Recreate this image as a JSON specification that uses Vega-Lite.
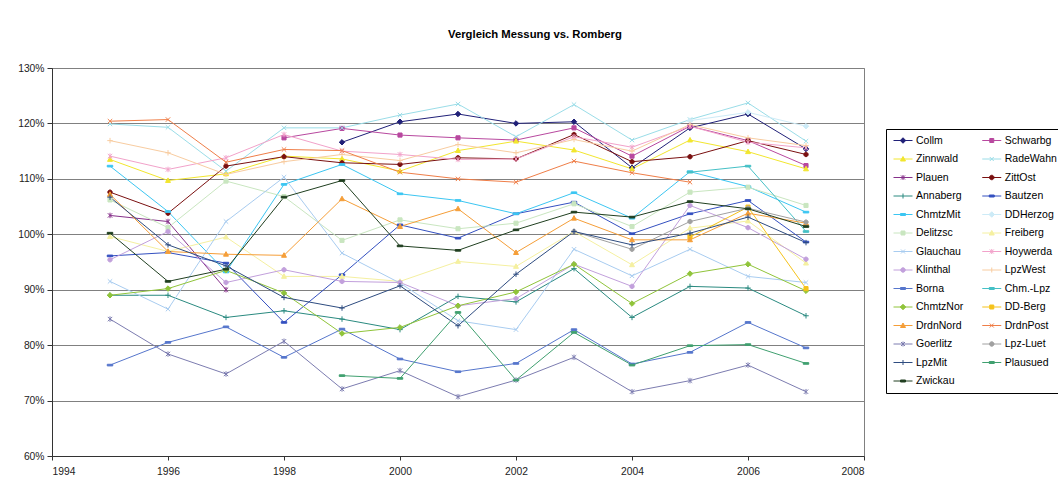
{
"$schema": "https://vega.github.io/schema/vega-lite/v6.json",
"width": 812, "height": 388,
"autosize": {"type": "none"},
"padding": {"left": 52, "top": 68, "right": 194, "bottom": 31},
"background": "white",
"title": {"text": "Vergleich Messung vs. Romberg", "anchor": "start", "frame": "group", "dx": 396, "offset": 23, "font": "Liberation Sans", "fontSize": 11.3, "fontWeight": "bold", "color": "#000"},
"config": {
 "view": {"stroke": "#808080"},
 "axis": {"labelFont": "Liberation Sans", "labelFontSize": 10.3, "labelColor": "#222", "domainColor": "#333", "tickColor": "#333", "title": null},
 "legend": {"orient": "none", "legendX": 834, "legendY": 61, "columns": 2, "columnPadding": 15.75, "rowPadding": 7.5, "padding": 6, "strokeColor": "#000", "fillColor": "#fff", "labelFont": "Liberation Sans", "labelFontSize": 10.5, "labelColor": "#000", "labelOffset": 13, "symbolSize": 100, "symbolStrokeWidth": 1, "symbolOpacity": 1, "labelLimit": 0}
},
"data": {"values": [
{"s":"Collm","t":1999,"v":116.6},{"s":"Collm","t":2000,"v":120.3},{"s":"Collm","t":2001,"v":121.7},{"s":"Collm","t":2002,"v":120.0},{"s":"Collm","t":2003,"v":120.3},{"s":"Collm","t":2004,"v":112.0},{"s":"Collm","t":2005,"v":119.2},{"s":"Collm","t":2006,"v":121.7},{"s":"Collm","t":2007,"v":115.4},
{"s":"Schwarbg","t":1998,"v":117.4},{"s":"Schwarbg","t":1999,"v":119.1},{"s":"Schwarbg","t":2000,"v":117.9},{"s":"Schwarbg","t":2001,"v":117.4},{"s":"Schwarbg","t":2002,"v":117.0},{"s":"Schwarbg","t":2003,"v":119.2},{"s":"Schwarbg","t":2004,"v":114.1},{"s":"Schwarbg","t":2005,"v":119.5},{"s":"Schwarbg","t":2006,"v":116.9},{"s":"Schwarbg","t":2007,"v":112.4},
{"s":"Zinnwald","t":1995,"v":113.5},{"s":"Zinnwald","t":1996,"v":109.7},{"s":"Zinnwald","t":1997,"v":110.9},{"s":"Zinnwald","t":1998,"v":114.1},{"s":"Zinnwald","t":1999,"v":113.6},{"s":"Zinnwald","t":2000,"v":111.4},{"s":"Zinnwald","t":2001,"v":115.1},{"s":"Zinnwald","t":2002,"v":116.8},{"s":"Zinnwald","t":2003,"v":115.2},{"s":"Zinnwald","t":2004,"v":111.8},{"s":"Zinnwald","t":2005,"v":117.0},{"s":"Zinnwald","t":2006,"v":114.9},{"s":"Zinnwald","t":2007,"v":111.8},
{"s":"RadeWahn","t":1995,"v":119.9},{"s":"RadeWahn","t":1996,"v":119.3},{"s":"RadeWahn","t":1997,"v":111.4},{"s":"RadeWahn","t":1998,"v":119.2},{"s":"RadeWahn","t":1999,"v":119.2},{"s":"RadeWahn","t":2000,"v":121.5},{"s":"RadeWahn","t":2001,"v":123.5},{"s":"RadeWahn","t":2002,"v":117.6},{"s":"RadeWahn","t":2003,"v":123.4},{"s":"RadeWahn","t":2004,"v":117.0},{"s":"RadeWahn","t":2005,"v":120.7},{"s":"RadeWahn","t":2006,"v":123.7},{"s":"RadeWahn","t":2007,"v":116.8},
{"s":"Plauen","t":1995,"v":103.4},{"s":"Plauen","t":1996,"v":102.3},{"s":"Plauen","t":1997,"v":90.0},
{"s":"ZittOst","t":1995,"v":107.6},{"s":"ZittOst","t":1996,"v":103.8},{"s":"ZittOst","t":1997,"v":112.3},{"s":"ZittOst","t":1998,"v":114.0},{"s":"ZittOst","t":1999,"v":112.9},{"s":"ZittOst","t":2000,"v":112.6},{"s":"ZittOst","t":2001,"v":113.8},{"s":"ZittOst","t":2002,"v":113.6},{"s":"ZittOst","t":2003,"v":118.0},{"s":"ZittOst","t":2004,"v":113.1},{"s":"ZittOst","t":2005,"v":114.0},{"s":"ZittOst","t":2006,"v":116.9},{"s":"ZittOst","t":2007,"v":114.4},
{"s":"Annaberg","t":1995,"v":89.0},{"s":"Annaberg","t":1996,"v":89.0},{"s":"Annaberg","t":1997,"v":85.0},{"s":"Annaberg","t":1998,"v":86.2},{"s":"Annaberg","t":1999,"v":84.7},{"s":"Annaberg","t":2000,"v":82.8},{"s":"Annaberg","t":2001,"v":88.8},{"s":"Annaberg","t":2002,"v":87.8},{"s":"Annaberg","t":2003,"v":93.8},{"s":"Annaberg","t":2004,"v":85.0},{"s":"Annaberg","t":2005,"v":90.6},{"s":"Annaberg","t":2006,"v":90.3},{"s":"Annaberg","t":2007,"v":85.3},
{"s":"Bautzen","t":1995,"v":96.1},{"s":"Bautzen","t":1996,"v":96.7},{"s":"Bautzen","t":1997,"v":94.8},{"s":"Bautzen","t":1998,"v":84.1},{"s":"Bautzen","t":1999,"v":92.7},{"s":"Bautzen","t":2000,"v":101.7},{"s":"Bautzen","t":2001,"v":99.3},{"s":"Bautzen","t":2002,"v":103.7},{"s":"Bautzen","t":2003,"v":105.8},{"s":"Bautzen","t":2004,"v":100.1},{"s":"Bautzen","t":2005,"v":103.7},{"s":"Bautzen","t":2006,"v":106.1},{"s":"Bautzen","t":2007,"v":98.6},
{"s":"ChmtzMit","t":1995,"v":112.3},{"s":"ChmtzMit","t":1996,"v":104.1},{"s":"ChmtzMit","t":1997,"v":93.2},{"s":"ChmtzMit","t":1998,"v":109.0},{"s":"ChmtzMit","t":1999,"v":112.6},{"s":"ChmtzMit","t":2000,"v":107.3},{"s":"ChmtzMit","t":2001,"v":106.1},{"s":"ChmtzMit","t":2002,"v":103.7},{"s":"ChmtzMit","t":2003,"v":107.5},{"s":"ChmtzMit","t":2004,"v":102.9},{"s":"ChmtzMit","t":2005,"v":111.3},{"s":"ChmtzMit","t":2006,"v":108.6},{"s":"ChmtzMit","t":2007,"v":104.0},
{"s":"DDHerzog","t":2005,"v":120.5},{"s":"DDHerzog","t":2006,"v":122.0},{"s":"DDHerzog","t":2007,"v":119.5},
{"s":"Delitzsc","t":1995,"v":106.2},{"s":"Delitzsc","t":1996,"v":101.2},{"s":"Delitzsc","t":1997,"v":109.6},{"s":"Delitzsc","t":1998,"v":106.8},{"s":"Delitzsc","t":1999,"v":98.9},{"s":"Delitzsc","t":2000,"v":102.6},{"s":"Delitzsc","t":2001,"v":101.0},{"s":"Delitzsc","t":2002,"v":102.0},{"s":"Delitzsc","t":2003,"v":105.5},{"s":"Delitzsc","t":2004,"v":101.4},{"s":"Delitzsc","t":2005,"v":107.6},{"s":"Delitzsc","t":2006,"v":108.5},{"s":"Delitzsc","t":2007,"v":105.2},
{"s":"Freiberg","t":1995,"v":99.6},{"s":"Freiberg","t":1996,"v":96.9},{"s":"Freiberg","t":1997,"v":99.5},{"s":"Freiberg","t":1998,"v":92.4},{"s":"Freiberg","t":1999,"v":92.4},{"s":"Freiberg","t":2000,"v":91.5},{"s":"Freiberg","t":2001,"v":95.1},{"s":"Freiberg","t":2002,"v":94.2},{"s":"Freiberg","t":2003,"v":100.5},{"s":"Freiberg","t":2004,"v":94.5},{"s":"Freiberg","t":2005,"v":101.1},{"s":"Freiberg","t":2006,"v":102.4},{"s":"Freiberg","t":2007,"v":94.8},
{"s":"Glauchau","t":1995,"v":91.5},{"s":"Glauchau","t":1996,"v":86.5},{"s":"Glauchau","t":1997,"v":102.3},{"s":"Glauchau","t":1998,"v":110.3},{"s":"Glauchau","t":1999,"v":96.6},{"s":"Glauchau","t":2000,"v":91.2},{"s":"Glauchau","t":2001,"v":84.4},{"s":"Glauchau","t":2002,"v":82.8},{"s":"Glauchau","t":2003,"v":97.3},{"s":"Glauchau","t":2004,"v":92.5},{"s":"Glauchau","t":2005,"v":97.3},{"s":"Glauchau","t":2006,"v":92.4},{"s":"Glauchau","t":2007,"v":91.3},
{"s":"Hoywerda","t":1995,"v":114.1},{"s":"Hoywerda","t":1996,"v":111.7},{"s":"Hoywerda","t":1997,"v":113.8},{"s":"Hoywerda","t":1998,"v":118.0},{"s":"Hoywerda","t":1999,"v":115.0},{"s":"Hoywerda","t":2000,"v":114.4},{"s":"Hoywerda","t":2001,"v":113.5},{"s":"Hoywerda","t":2002,"v":113.6},{"s":"Hoywerda","t":2003,"v":117.6},{"s":"Hoywerda","t":2004,"v":115.7},{"s":"Hoywerda","t":2005,"v":119.5},{"s":"Hoywerda","t":2006,"v":116.6},{"s":"Hoywerda","t":2007,"v":115.6},
{"s":"Klinthal","t":1995,"v":95.4},{"s":"Klinthal","t":1996,"v":100.5},{"s":"Klinthal","t":1997,"v":91.3},{"s":"Klinthal","t":1998,"v":93.6},{"s":"Klinthal","t":1999,"v":91.5},{"s":"Klinthal","t":2000,"v":91.3},{"s":"Klinthal","t":2001,"v":87.1},{"s":"Klinthal","t":2002,"v":88.4},{"s":"Klinthal","t":2003,"v":94.6},{"s":"Klinthal","t":2004,"v":90.6},{"s":"Klinthal","t":2005,"v":105.2},{"s":"Klinthal","t":2006,"v":101.2},{"s":"Klinthal","t":2007,"v":95.5},
{"s":"LpzWest","t":1995,"v":116.9},{"s":"LpzWest","t":1996,"v":114.7},{"s":"LpzWest","t":1997,"v":110.8},{"s":"LpzWest","t":1998,"v":113.1},{"s":"LpzWest","t":1999,"v":114.4},{"s":"LpzWest","t":2000,"v":113.3},{"s":"LpzWest","t":2001,"v":116.2},{"s":"LpzWest","t":2002,"v":114.7},{"s":"LpzWest","t":2003,"v":117.1},{"s":"LpzWest","t":2004,"v":115.0},{"s":"LpzWest","t":2005,"v":119.8},{"s":"LpzWest","t":2006,"v":117.4},{"s":"LpzWest","t":2007,"v":116.0},
{"s":"Borna","t":1995,"v":76.4},{"s":"Borna","t":1996,"v":80.5},{"s":"Borna","t":1997,"v":83.3},{"s":"Borna","t":1998,"v":77.8},{"s":"Borna","t":1999,"v":82.9},{"s":"Borna","t":2000,"v":77.5},{"s":"Borna","t":2001,"v":75.2},{"s":"Borna","t":2002,"v":76.7},{"s":"Borna","t":2003,"v":82.8},{"s":"Borna","t":2004,"v":76.6},{"s":"Borna","t":2005,"v":78.7},{"s":"Borna","t":2006,"v":84.1},{"s":"Borna","t":2007,"v":79.5},
{"s":"Chm.-Lpz","t":2005,"v":111.2},{"s":"Chm.-Lpz","t":2006,"v":112.3},{"s":"Chm.-Lpz","t":2007,"v":100.5},
{"s":"ChmtzNor","t":1995,"v":89.0},{"s":"ChmtzNor","t":1996,"v":90.2},{"s":"ChmtzNor","t":1997,"v":93.5},{"s":"ChmtzNor","t":1998,"v":89.4},{"s":"ChmtzNor","t":1999,"v":82.1},{"s":"ChmtzNor","t":2000,"v":83.2},{"s":"ChmtzNor","t":2001,"v":87.1},{"s":"ChmtzNor","t":2002,"v":89.6},{"s":"ChmtzNor","t":2003,"v":94.6},{"s":"ChmtzNor","t":2004,"v":87.5},{"s":"ChmtzNor","t":2005,"v":92.9},{"s":"ChmtzNor","t":2006,"v":94.6},{"s":"ChmtzNor","t":2007,"v":89.8},
{"s":"DD-Berg","t":2005,"v":99.5},{"s":"DD-Berg","t":2006,"v":104.9},{"s":"DD-Berg","t":2007,"v":90.2},
{"s":"DrdnNord","t":1995,"v":107.2},{"s":"DrdnNord","t":1996,"v":96.9},{"s":"DrdnNord","t":1997,"v":96.4},{"s":"DrdnNord","t":1998,"v":96.2},{"s":"DrdnNord","t":1999,"v":106.4},{"s":"DrdnNord","t":2000,"v":101.4},{"s":"DrdnNord","t":2001,"v":104.6},{"s":"DrdnNord","t":2002,"v":96.7},{"s":"DrdnNord","t":2003,"v":102.9},{"s":"DrdnNord","t":2004,"v":99.0},{"s":"DrdnNord","t":2005,"v":99.0},{"s":"DrdnNord","t":2006,"v":103.8},{"s":"DrdnNord","t":2007,"v":102.0},
{"s":"DrdnPost","t":1995,"v":120.4},{"s":"DrdnPost","t":1996,"v":120.7},{"s":"DrdnPost","t":1997,"v":113.0},{"s":"DrdnPost","t":1998,"v":115.3},{"s":"DrdnPost","t":1999,"v":115.1},{"s":"DrdnPost","t":2000,"v":111.2},{"s":"DrdnPost","t":2001,"v":110.0},{"s":"DrdnPost","t":2002,"v":109.4},{"s":"DrdnPost","t":2003,"v":113.2},{"s":"DrdnPost","t":2004,"v":111.1},{"s":"DrdnPost","t":2005,"v":109.4},
{"s":"Goerlitz","t":1995,"v":84.7},{"s":"Goerlitz","t":1996,"v":78.4},{"s":"Goerlitz","t":1997,"v":74.8},{"s":"Goerlitz","t":1998,"v":80.7},{"s":"Goerlitz","t":1999,"v":72.1},{"s":"Goerlitz","t":2000,"v":75.4},{"s":"Goerlitz","t":2001,"v":70.7},{"s":"Goerlitz","t":2002,"v":73.7},{"s":"Goerlitz","t":2003,"v":77.8},{"s":"Goerlitz","t":2004,"v":71.6},{"s":"Goerlitz","t":2005,"v":73.6},{"s":"Goerlitz","t":2006,"v":76.4},{"s":"Goerlitz","t":2007,"v":71.6},
{"s":"Lpz-Luet","t":2003,"v":100.5},{"s":"Lpz-Luet","t":2004,"v":97.3},{"s":"Lpz-Luet","t":2005,"v":102.3},{"s":"Lpz-Luet","t":2006,"v":104.7},{"s":"Lpz-Luet","t":2007,"v":102.2},
{"s":"LpzMit","t":1995,"v":106.7},{"s":"LpzMit","t":1996,"v":98.1},{"s":"LpzMit","t":1997,"v":94.3},{"s":"LpzMit","t":1998,"v":88.6},{"s":"LpzMit","t":1999,"v":86.7},{"s":"LpzMit","t":2000,"v":90.7},{"s":"LpzMit","t":2001,"v":83.5},{"s":"LpzMit","t":2002,"v":92.8},{"s":"LpzMit","t":2003,"v":100.5},{"s":"LpzMit","t":2004,"v":98.1},{"s":"LpzMit","t":2005,"v":100.2},{"s":"LpzMit","t":2006,"v":103.1},{"s":"LpzMit","t":2007,"v":98.5},
{"s":"Plausued","t":1999,"v":74.5},{"s":"Plausued","t":2000,"v":74.0},{"s":"Plausued","t":2001,"v":85.9},{"s":"Plausued","t":2002,"v":73.7},{"s":"Plausued","t":2003,"v":82.3},{"s":"Plausued","t":2004,"v":76.4},{"s":"Plausued","t":2005,"v":79.9},{"s":"Plausued","t":2006,"v":80.1},{"s":"Plausued","t":2007,"v":76.7},
{"s":"Zwickau","t":1995,"v":100.2},{"s":"Zwickau","t":1996,"v":91.5},{"s":"Zwickau","t":1997,"v":93.7},{"s":"Zwickau","t":1998,"v":106.7},{"s":"Zwickau","t":1999,"v":109.7},{"s":"Zwickau","t":2000,"v":97.9},{"s":"Zwickau","t":2001,"v":97.1},{"s":"Zwickau","t":2002,"v":100.8},{"s":"Zwickau","t":2003,"v":104.0},{"s":"Zwickau","t":2004,"v":103.1},{"s":"Zwickau","t":2005,"v":105.9},{"s":"Zwickau","t":2006,"v":104.6},{"s":"Zwickau","t":2007,"v":101.4}
]},
"encoding": {
 "x": {"field": "t", "type": "quantitative", "scale": {"domain": [1994, 2008], "nice": false, "zero": false}, "axis": {"values": [1994, 1996, 1998, 2000, 2002, 2004, 2006, 2008], "format": "d", "grid": false, "tickSize": 4, "labelPadding": 6}},
 "y": {"field": "v", "type": "quantitative", "scale": {"domain": [60, 130], "nice": false, "zero": false}, "axis": {"values": [60, 70, 80, 90, 100, 110, 120, 130], "labelExpr": "datum.value + '%'", "grid": true, "gridColor": "#808080", "tickSize": 5, "labelPadding": 3}}
},
"layer": [
 {"mark": {"type": "line", "strokeWidth": 1},
  "encoding": {"stroke": {"field": "s", "type": "nominal", "scale": {"domain": ["Collm","Zinnwald","Plauen","Annaberg","ChmtzMit","Delitzsc","Glauchau","Klinthal","Borna","ChmtzNor","DrdnNord","Goerlitz","LpzMit","Zwickau","Schwarbg","RadeWahn","ZittOst","Bautzen","DDHerzog","Freiberg","Hoywerda","LpzWest","Chm.-Lpz","DD-Berg","DrdnPost","Lpz-Luet","Plausued"], "range": ["#202078","#F2E62E","#86308A","#2A8A80","#3CC6F2","#C9E6C0","#A8CCF0","#C2A0DC","#5676CC","#90C43A","#F59E38","#7C7CB0","#2E4C80","#203F20","#B8489F","#9ADDE8","#7A1010","#3450C0","#CDEBF7","#F5F0A0","#F2A2CA","#F8CCA0","#45C0C6","#F5C21A","#EF7E48","#A0A0A0","#40A070"]}, "legend": null}}},
 {"mark": {"type": "point", "filled": true, "size": 30, "strokeWidth": 1, "opacity": 1},
  "encoding": {
   "fill": {"field": "s", "type": "nominal", "scale": {"domain": ["Collm","Zinnwald","Plauen","Annaberg","ChmtzMit","Delitzsc","Glauchau","Klinthal","Borna","ChmtzNor","DrdnNord","Goerlitz","LpzMit","Zwickau","Schwarbg","RadeWahn","ZittOst","Bautzen","DDHerzog","Freiberg","Hoywerda","LpzWest","Chm.-Lpz","DD-Berg","DrdnPost","Lpz-Luet","Plausued"], "range": ["#202078","#F2E62E","#86308A","#2A8A80","#3CC6F2","#C9E6C0","#A8CCF0","#C2A0DC","#5676CC","#90C43A","#F59E38","#7C7CB0","#2E4C80","#203F20","#B8489F","#9ADDE8","#7A1010","#3450C0","#CDEBF7","#F5F0A0","#F2A2CA","#F8CCA0","#45C0C6","#F5C21A","#EF7E48","#A0A0A0","#40A070"]}, "legend": null},
   "stroke": {"field": "s", "type": "nominal", "legend": null},
   "shape": {"field": "s", "type": "nominal", "scale": {"domain": ["Collm","Zinnwald","Plauen","Annaberg","ChmtzMit","Delitzsc","Glauchau","Klinthal","Borna","ChmtzNor","DrdnNord","Goerlitz","LpzMit","Zwickau","Schwarbg","RadeWahn","ZittOst","Bautzen","DDHerzog","Freiberg","Hoywerda","LpzWest","Chm.-Lpz","DD-Berg","DrdnPost","Lpz-Luet","Plausued"], "range": [
     "M0,-1L1,0L0,1L-1,0Z","M0,-0.95L0.9,0.7L-0.9,0.7Z","M-0.8,-0.8L0.8,0.8M-0.8,0.8L0.8,-0.8M0,-1L0,1","M-1,0L1,0M0,-1L0,1","M-1,-0.3L1,-0.3L1,0.3L-1,0.3Z","M-0.75,-0.75L0.75,-0.75L0.75,0.75L-0.75,0.75Z","M-0.8,-0.8L0.8,0.8M-0.8,0.8L0.8,-0.8","M-0.8,0A0.8,0.8 0 1,0 0.8,0A0.8,0.8 0 1,0 -0.8,0Z","M-1,-0.3L1,-0.3L1,0.3L-1,0.3Z",
     "M0,-1L1,0L0,1L-1,0Z","M0,-0.95L0.9,0.7L-0.9,0.7Z","M-0.8,-0.8L0.8,0.8M-0.8,0.8L0.8,-0.8M0,-1L0,1","M-1,0L1,0M0,-1L0,1","M-1,-0.3L1,-0.3L1,0.3L-1,0.3Z",
     "M-0.75,-0.75L0.75,-0.75L0.75,0.75L-0.75,0.75Z","M-0.8,-0.8L0.8,0.8M-0.8,0.8L0.8,-0.8","M-0.8,0A0.8,0.8 0 1,0 0.8,0A0.8,0.8 0 1,0 -0.8,0Z","M-1,-0.3L1,-0.3L1,0.3L-1,0.3Z","M0,-1L1,0L0,1L-1,0Z","M0,-0.95L0.9,0.7L-0.9,0.7Z","M-0.8,-0.8L0.8,0.8M-0.8,0.8L0.8,-0.8M0,-1L0,1","M-1,0L1,0M0,-1L0,1","M-1,-0.3L1,-0.3L1,0.3L-1,0.3Z","M-0.75,-0.75L0.75,-0.75L0.75,0.75L-0.75,0.75Z","M-0.8,-0.8L0.8,0.8M-0.8,0.8L0.8,-0.8","M-0.8,0A0.8,0.8 0 1,0 0.8,0A0.8,0.8 0 1,0 -0.8,0Z","M-1,-0.3L1,-0.3L1,0.3L-1,0.3Z"]}, "legend": null}
  }},
 {"mark": {"type": "point", "filled": true, "opacity": 0},
  "encoding": {
   "fill": {"field": "s", "type": "nominal", "legend": {"title": null}},
   "stroke": {"field": "s", "type": "nominal", "legend": {"title": null}},
   "shape": {"field": "s", "type": "nominal", "scale": {"domain": ["Collm","Zinnwald","Plauen","Annaberg","ChmtzMit","Delitzsc","Glauchau","Klinthal","Borna","ChmtzNor","DrdnNord","Goerlitz","LpzMit","Zwickau","Schwarbg","RadeWahn","ZittOst","Bautzen","DDHerzog","Freiberg","Hoywerda","LpzWest","Chm.-Lpz","DD-Berg","DrdnPost","Lpz-Luet","Plausued"], "range": [
     "M-0.8,0L3,0M1.1,-0.55L1.65,0L1.1,0.55L0.55,0Z","M-0.8,0L3,0M1.1,-0.5L1.6,0.4L0.6,0.4Z","M-0.8,0L3,0M0.7,-0.4L1.5,0.4M0.7,0.4L1.5,-0.4M1.1,-0.5L1.1,0.5","M-0.8,0L3,0M1.1,-0.5L1.1,0.5","M-0.8,0L3,0M0.6,-0.2L1.6,-0.2L1.6,0.2L0.6,0.2Z","M-0.8,0L3,0M0.7,-0.4L1.5,-0.4L1.5,0.4L0.7,0.4Z","M-0.8,0L3,0M0.7,-0.4L1.5,0.4M0.7,0.4L1.5,-0.4","M-0.8,0L3,0M0.65,0A0.45,0.45 0 1,0 1.55,0A0.45,0.45 0 1,0 0.65,0Z","M-0.8,0L3,0M0.6,-0.2L1.6,-0.2L1.6,0.2L0.6,0.2Z",
     "M-0.8,0L3,0M1.1,-0.55L1.65,0L1.1,0.55L0.55,0Z","M-0.8,0L3,0M1.1,-0.5L1.6,0.4L0.6,0.4Z","M-0.8,0L3,0M0.7,-0.4L1.5,0.4M0.7,0.4L1.5,-0.4M1.1,-0.5L1.1,0.5","M-0.8,0L3,0M1.1,-0.5L1.1,0.5","M-0.8,0L3,0M0.6,-0.2L1.6,-0.2L1.6,0.2L0.6,0.2Z",
     "M-0.8,0L3,0M0.7,-0.4L1.5,-0.4L1.5,0.4L0.7,0.4Z","M-0.8,0L3,0M0.7,-0.4L1.5,0.4M0.7,0.4L1.5,-0.4","M-0.8,0L3,0M0.65,0A0.45,0.45 0 1,0 1.55,0A0.45,0.45 0 1,0 0.65,0Z","M-0.8,0L3,0M0.6,-0.2L1.6,-0.2L1.6,0.2L0.6,0.2Z","M-0.8,0L3,0M1.1,-0.55L1.65,0L1.1,0.55L0.55,0Z","M-0.8,0L3,0M1.1,-0.5L1.6,0.4L0.6,0.4Z","M-0.8,0L3,0M0.7,-0.4L1.5,0.4M0.7,0.4L1.5,-0.4M1.1,-0.5L1.1,0.5","M-0.8,0L3,0M1.1,-0.5L1.1,0.5","M-0.8,0L3,0M0.6,-0.2L1.6,-0.2L1.6,0.2L0.6,0.2Z","M-0.8,0L3,0M0.7,-0.4L1.5,-0.4L1.5,0.4L0.7,0.4Z","M-0.8,0L3,0M0.7,-0.4L1.5,0.4M0.7,0.4L1.5,-0.4","M-0.8,0L3,0M0.65,0A0.45,0.45 0 1,0 1.55,0A0.45,0.45 0 1,0 0.65,0Z","M-0.8,0L3,0M0.6,-0.2L1.6,-0.2L1.6,0.2L0.6,0.2Z"]}, "legend": {"title": null}}
  }}
],
"resolve": {"scale": {"shape": "independent"}, "legend": {"fill": "independent", "stroke": "independent", "shape": "independent"}}
}
